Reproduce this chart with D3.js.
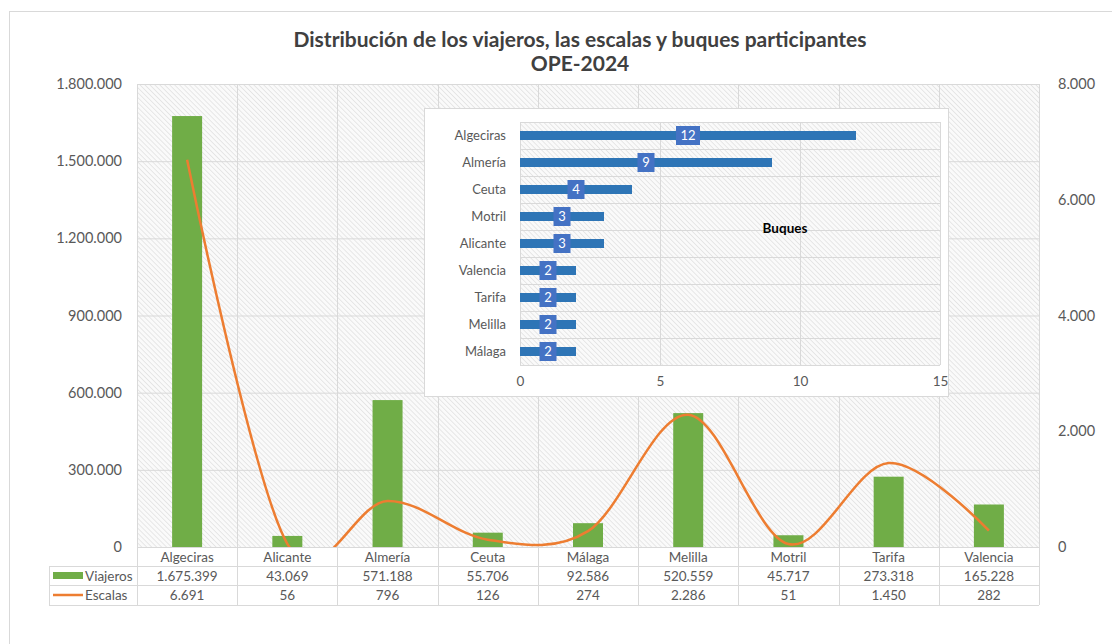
<!DOCTYPE html>
<html>
<head>
<meta charset="utf-8">
<script src="https://cdn.jsdelivr.net/npm/d3@7"></script>
<style>
  body { margin: 0; background: #fff; }
  text { font-family: Lato, "Open Sans", sans-serif; fill: #595959; }
</style>
</head>
<body>
<svg id="chart" width="1112" height="644"></svg>
<script>
// data
const puertos = ["Algeciras","Alicante","Almería","Ceuta","Málaga","Melilla","Motril","Tarifa","Valencia"];
const viajeros = [1675399,43069,571188,55706,92586,520559,45717,273318,165228];
const escalas = [6691,56,796,126,274,2286,51,1450,282];
const buquesPuertos = ["Algeciras","Almería","Ceuta","Motril","Alicante","Valencia","Tarifa","Melilla","Málaga"];
const buques = [12,9,4,3,3,2,2,2,2];
const leftTicks = [0,300000,600000,900000,1200000,1500000,1800000];
const rightTicks = [0,2000,4000,6000,8000];
const buquesTicks = [0,5,10,15];

const es = d3.formatLocale({decimal: ",", thousands: ".", grouping: [3], currency: ["", " €"]});
const fmt = es.format(",d");

const svg = d3.select("#chart");

// hatch pattern like the excel fill
const defs = svg.append("defs");
const pat = defs.append("pattern").attr("id","hatch").attr("patternUnits","userSpaceOnUse")
  .attr("width",3.5).attr("height",3.5).attr("patternTransform","rotate(-45)");
pat.append("rect").attr("width",3.5).attr("height",3.5).attr("fill","#fafafa");
pat.append("line").attr("x1",0).attr("y1",0).attr("x2",0).attr("y2",3.5)
  .attr("stroke","#d8d8d8").attr("stroke-width",1.1);

// outer frame
svg.append("rect").attr("x",9.5).attr("y",11.5).attr("width",1120).attr("height",660)
  .attr("fill","none").attr("stroke","#d9d9d9");

// title
svg.append("text").attr("x",580).attr("y",47).attr("text-anchor","middle")
  .style("font-size","21px").style("font-weight","bold").style("fill","#404040")
  .text("Distribución de los viajeros, las escalas y buques participantes");
svg.append("text").attr("x",580).attr("y",71).attr("text-anchor","middle")
  .style("font-size","21px").style("font-weight","bold").style("fill","#404040")
  .text("OPE-2024");

// main plot
const pL = 137, pR = 1039, pT = 84, pB = 547;
const x = d3.scaleBand().domain(puertos).range([pL,pR]).paddingInner(0).paddingOuter(0);
const y = d3.scaleLinear().domain([0,1800000]).range([pB,pT]);
const y2 = d3.scaleLinear().domain([0,8000]).range([pB,pT]);

svg.append("rect").attr("x",pL).attr("y",pT).attr("width",pR-pL).attr("height",pB-pT)
  .attr("fill","url(#hatch)");

// gridlines
svg.append("g").selectAll("line").data(leftTicks).join("line")
  .attr("x1",pL).attr("x2",pR).attr("y1",d=>y(d)+0.5).attr("y2",d=>y(d)+0.5)
  .attr("stroke","#d9d9d9").attr("stroke-width",1);
const bounds = puertos.map(p=>x(p)).concat([pR]);
svg.append("g").selectAll("line").data(bounds).join("line")
  .attr("x1",d=>Math.round(d)+0.5).attr("x2",d=>Math.round(d)+0.5).attr("y1",pT).attr("y2",pB)
  .attr("stroke","#d9d9d9");

// left axis
const la = svg.append("g").attr("transform",`translate(${pL-15},0)`)
  .call(d3.axisLeft(y).tickValues(leftTicks).tickFormat(fmt).tickSize(0).tickPadding(0));
la.select(".domain").remove();
la.selectAll("text").style("font-size","14.5px").style("fill","#595959");

// right axis
const ra = svg.append("g").attr("transform",`translate(${pR+19},0)`)
  .call(d3.axisRight(y2).tickValues(rightTicks).tickFormat(fmt).tickSize(0).tickPadding(0));
ra.select(".domain").remove();
ra.selectAll("text").style("font-size","14.5px").style("fill","#595959");

// bars
const bw = 30;
svg.append("g").selectAll("rect").data(puertos).join("rect")
  .attr("x",(d)=>x(d)+x.bandwidth()/2-bw/2)
  .attr("y",(d,i)=>y(viajeros[i]))
  .attr("width",bw)
  .attr("height",(d,i)=>pB-y(viajeros[i]))
  .attr("fill","#70ad47");

// smoothed line
defs.append("clipPath").attr("id","plotclip").append("rect")
  .attr("x",pL).attr("y",pT-20).attr("width",pR-pL).attr("height",pB-pT+20);
const line = d3.line()
  .x((d,i)=>x(puertos[i])+x.bandwidth()/2)
  .y(d=>y2(d))
  .curve(d3.curveCardinal.tension(0));
svg.append("path").datum(escalas).attr("d",line)
  .attr("fill","none").attr("stroke","#ed7d31").attr("stroke-width",2.5)
  .attr("clip-path","url(#plotclip)");

// data table
const tLeft = 49, rowH = [pB, 566, 585, 605];
const tg = svg.append("g");
tg.selectAll("line.h").data(rowH.slice(1)).join("line").attr("class","h")
  .attr("x1",tLeft).attr("x2",pR)
  .attr("y1",d=>d+0.5).attr("y2",d=>d+0.5).attr("stroke","#d9d9d9");
tg.selectAll("line.v").data(bounds).join("line").attr("class","v")
  .attr("x1",d=>Math.round(d)+0.5).attr("x2",d=>Math.round(d)+0.5)
  .attr("y1",pB).attr("y2",rowH[3]).attr("stroke","#d9d9d9");
tg.append("line").attr("x1",tLeft+0.5).attr("x2",tLeft+0.5).attr("y1",rowH[1]).attr("y2",rowH[3])
  .attr("stroke","#d9d9d9");
tg.append("line").attr("x1",pL).attr("x2",pR).attr("y1",pB+0.5).attr("y2",pB+0.5)
  .attr("stroke","#d9d9d9");

tg.selectAll("text.cat").data(puertos).join("text").attr("class","cat")
  .attr("x",d=>x(d)+x.bandwidth()/2).attr("y",(rowH[0]+rowH[1])/2+5)
  .attr("text-anchor","middle").style("font-size","13.5px").text(d=>d);
tg.selectAll("text.v1").data(viajeros).join("text").attr("class","v1")
  .attr("x",(d,i)=>x(puertos[i])+x.bandwidth()/2).attr("y",(rowH[1]+rowH[2])/2+5)
  .attr("text-anchor","middle").style("font-size","13.5px").text(d=>fmt(d));
tg.selectAll("text.v2").data(escalas).join("text").attr("class","v2")
  .attr("x",(d,i)=>x(puertos[i])+x.bandwidth()/2).attr("y",(rowH[2]+rowH[3])/2+5)
  .attr("text-anchor","middle").style("font-size","13.5px").text(d=>fmt(d));

// legend keys in table
tg.append("rect").attr("x",53).attr("y",572).attr("width",30).attr("height",7).attr("fill","#70ad47");
tg.append("text").attr("x",85).attr("y",580.5).style("font-size","13.5px").text("Viajeros");
tg.append("line").attr("x1",53).attr("x2",83).attr("y1",595).attr("y2",595)
  .attr("stroke","#ed7d31").attr("stroke-width",2.5);
tg.append("text").attr("x",85).attr("y",600).style("font-size","13.5px").text("Escalas");

// inset chart: buques
const ig = svg.append("g");
ig.append("rect").attr("x",424.5).attr("y",108.5).attr("width",524).attr("height",288)
  .attr("fill","#fff").attr("stroke","#d9d9d9");
const bx = d3.scaleLinear().domain([0,15]).range([520,940]);
const by = d3.scaleBand().domain(buquesPuertos).range([122,365]).paddingInner(0).paddingOuter(0);
ig.append("rect").attr("x",520).attr("y",122).attr("width",420).attr("height",243).attr("fill","url(#hatch)");
ig.selectAll("line.hg").data(buquesPuertos.map(d=>by(d)).concat([365])).join("line").attr("class","hg")
  .attr("x1",520).attr("x2",940).attr("y1",d=>Math.round(d)+0.5).attr("y2",d=>Math.round(d)+0.5)
  .attr("stroke","#d9d9d9");
ig.selectAll("line.vg").data(buquesTicks).join("line").attr("class","vg")
  .attr("x1",d=>bx(d)+0.5).attr("x2",d=>bx(d)+0.5).attr("y1",122).attr("y2",365)
  .attr("stroke","#d9d9d9");

const bxa = ig.append("g").attr("transform","translate(0,376)")
  .call(d3.axisBottom(bx).tickValues(buquesTicks).tickSize(0).tickPadding(0));
bxa.select(".domain").remove();
bxa.selectAll("text").attr("dy","0.71em").style("font-size","13.5px").style("fill","#595959");

const bya = ig.append("g").attr("transform","translate(506,0)")
  .call(d3.axisLeft(by).tickSize(0).tickPadding(0));
bya.select(".domain").remove();
bya.selectAll("text").style("font-size","13px").style("fill","#595959");

ig.selectAll("rect.bq").data(buques).join("rect").attr("class","bq")
  .attr("x",bx(0)).attr("y",(d,i)=>by(buquesPuertos[i])+by.bandwidth()/2-4.5)
  .attr("width",d=>bx(d)-bx(0)).attr("height",9).attr("fill","#2e75b6");
ig.selectAll("rect.lb").data(buques).join("rect").attr("class","lb")
  .attr("x",d=>bx(d/2)-(d>=10?12:8.5)).attr("y",(d,i)=>by(buquesPuertos[i])+by.bandwidth()/2-9.5)
  .attr("width",d=>d>=10?24:17).attr("height",19).attr("fill","#4472c4");
ig.selectAll("text.lt").data(buques).join("text").attr("class","lt")
  .attr("x",d=>bx(d/2)).attr("y",(d,i)=>by(buquesPuertos[i])+by.bandwidth()/2+4.5)
  .attr("text-anchor","middle").style("font-size","13px").style("fill","#fff").text(d=>d);

ig.append("text").attr("x",785).attr("y",233).attr("text-anchor","middle")
  .style("font-size","13.5px").style("font-weight","bold").style("fill","#000").text("Buques");
</script>
</body>
</html>
